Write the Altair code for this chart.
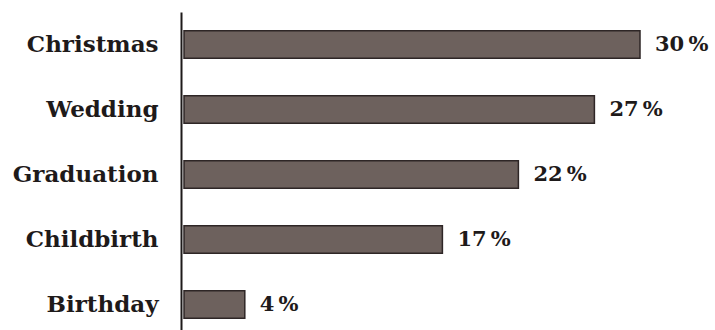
import altair as alt
import pandas as pd

categories = ["Christmas", "Wedding", "Graduation", "Childbirth", "Birthday"]
values = [30, 27, 22, 17, 4]
labels = ["30\u2009%", "27\u2009%", "22\u2009%", "17\u2009%", "4\u2009%"]

df = pd.DataFrame({"cat": categories, "val": values, "lab": labels})

FONT = "DejaVu Serif"

y = alt.Y("cat:N", sort=categories, title=None,
          scale=alt.Scale(paddingInner=0.58, paddingOuter=0.29),
          axis=alt.Axis(ticks=False, labelFont=FONT, labelFontWeight="bold",
                        labelFontSize=23, labelColor="#1e1a1a", labelPadding=23,
                        domainColor="#1e1a1a", domainWidth=2, labelAlign="right"))
x = alt.X("val:Q", title=None, scale=alt.Scale(domain=[0, 35], range=[3, 535]), axis=None)

bars = alt.Chart(df).mark_bar(color="#6d615d", stroke="#2e2626", strokeWidth=1.5).encode(x=x, y=y)
text = alt.Chart(df).mark_text(align="left", baseline="middle", dx=15, font=FONT,
                               fontWeight="bold", fontSize=21, color="#1e1a1a").encode(
    x=x, y=y, text="lab:N")

chart = (bars + text).properties(
    width=534, height=325,
    autosize=alt.AutoSizeParams(type="none"),
    padding={"left": 181, "top": 12, "right": 0, "bottom": 0},
    background="#ffffff",
).configure_view(stroke=None)

chart.save("out.html", embed_options={"renderer": "svg", "actions": False})
